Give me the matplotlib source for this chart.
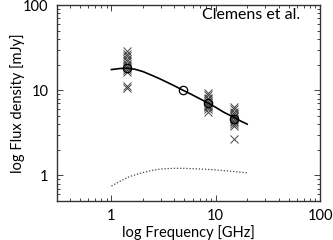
import matplotlib
matplotlib.use("Agg")
import matplotlib.pyplot as plt
from matplotlib.ticker import FixedLocator, LogLocator, NullFormatter

plt.rcParams['font.family'] = ['Lato', 'DejaVu Sans']

# Individual measurements (crosses)
x_cross_14 = [1.4] * 12
y_cross_14 = [29, 27, 25, 23.5, 22, 20.5, 19.5, 18.5, 17.5, 16.5, 11.2, 10.5]
x_cross_84 = [8.4] * 11
y_cross_84 = [9.2, 8.7, 8.2, 7.8, 7.4, 7.1, 6.8, 6.6, 6.3, 6.0, 5.6]
x_cross_15 = [15] * 12
y_cross_15 = [6.4, 6.0, 5.6, 5.3, 5.0, 4.8, 4.6, 4.4, 4.2, 4.0, 3.8, 2.7]

# Mean values (open circles)
x_circ = [1.4, 4.86, 8.4, 15]
y_circ = [18.5, 10.0, 7.0, 4.6]

# Model fit (solid line)
fit_freq = [1.0, 1.2, 1.4, 1.7, 2.0, 2.5, 3.0, 4.0, 4.86, 6.0, 8.4, 10, 12, 15, 17, 20]
fit_flux = [17.5, 18.0, 18.2, 17.6, 16.6, 14.8, 13.4, 11.3, 10.0, 8.8, 7.1, 6.3, 5.5, 4.8, 4.4, 4.0]

# Dotted component
dot_freq = [1.0, 1.2, 1.5, 2.0, 2.5, 3.0, 4.0, 5.0, 7.0, 10, 15, 20]
dot_flux = [0.75, 0.85, 0.97, 1.08, 1.15, 1.19, 1.21, 1.21, 1.19, 1.16, 1.11, 1.07]

fig = plt.figure(figsize=(3.33, 2.40), dpi=100)
ax = fig.add_axes([0.171, 0.1625, 0.79, 0.816])

cross_col = '#444444'
for xs, ys in [(x_cross_14, y_cross_14), (x_cross_84, y_cross_84), (x_cross_15, y_cross_15)]:
    ax.plot(xs, ys, linestyle='none', marker='x', markersize=5.5, markeredgewidth=0.7,
            color=cross_col)
ax.plot(fit_freq, fit_flux, '-', color='black', linewidth=1.2)
ax.plot(dot_freq, dot_flux, linestyle=(0, (1, 1.5)), color='#444444', linewidth=0.9)
ax.plot(x_circ, y_circ, linestyle='none', marker='o', markersize=6, markerfacecolor='none',
        markeredgecolor='black', markeredgewidth=0.9)

ax.set_xscale('log')
ax.set_yscale('log')
ax.set_xlim(0.3, 100)
ax.set_ylim(0.5, 100)

ax.xaxis.set_major_locator(FixedLocator([1, 10, 100]))
ax.yaxis.set_major_locator(FixedLocator([1, 10, 100]))
ax.set_xticklabels(['1', '10', '100'])
ax.set_yticklabels(['1', '10', '100'])
ax.xaxis.set_minor_locator(LogLocator(base=10, subs=range(2, 10)))
ax.yaxis.set_minor_locator(LogLocator(base=10, subs=range(2, 10)))
ax.xaxis.set_minor_formatter(NullFormatter())
ax.yaxis.set_minor_formatter(NullFormatter())

ax.tick_params(which='both', direction='in', top=True, right=True, labelsize=10.5,
               color='#444444', width=0.7, pad=6)
ax.tick_params(which='major', length=4)
ax.tick_params(which='minor', length=2)
for s in ax.spines.values():
    s.set_linewidth(1.0)
    s.set_color('#333333')

ax.set_xlabel('log Frequency [GHz]', fontsize=10.5, labelpad=1)
ax.set_ylabel('log Flux density [mJy]', fontsize=10.5)
ax.yaxis.set_label_coords(-0.148, 0.5)
ax.yaxis.label.set_verticalalignment('center')
ax.text(0.924, 0.949, 'Clemens et al.', transform=ax.transAxes, ha='right', va='center',
        fontsize=11.5)

fig.savefig('out.png', dpi=100)
